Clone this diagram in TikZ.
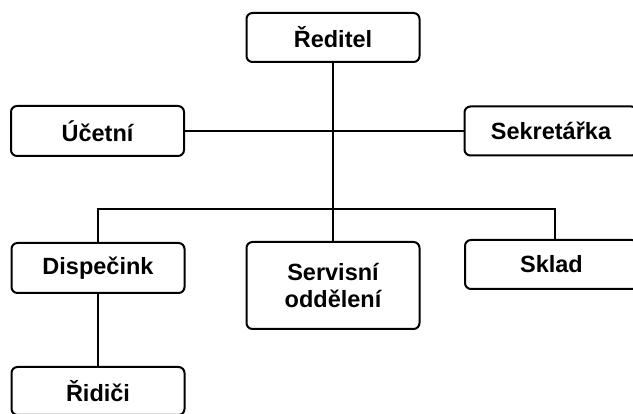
\documentclass[tikz,border=0pt]{standalone}
\usepackage{fontspec}
\setmainfont{Liberation Sans}
\begin{document}
\begin{tikzpicture}[x=1pt,y=-1pt,
  orgbox/.style={draw=black,line width=2pt,rounded corners=6pt,fill=white,
    minimum width=173pt,inner sep=0pt,align=center,
    font=\fontsize{23.5}{27}\selectfont\bfseries},
  link/.style={draw=black,line width=2pt}]
\useasboundingbox[fill=white] (0,0) rectangle (633,414);
\node[orgbox,minimum height=49pt] (red) at (333,37.5) {Ředitel};
\node[orgbox,minimum height=50pt] (uc) at (97.5,131) {Účetní};
\node[orgbox,minimum height=49pt] (sek) at (551,131) {Sekretářka};
\node[orgbox,minimum height=50pt] (disp) at (98,268) {Dispečink};
\node[orgbox,minimum height=87pt] (serv) at (333,285.5) {Servisní\\oddělení};
\node[orgbox,minimum height=49pt] (skl) at (551.5,264.5) {Sklad};
\node[orgbox,minimum height=48pt] (rid) at (98,391) {Řidiči};
\coordinate (bl) at (98,209);
\coordinate (bm) at (333,209);
\coordinate (br) at (555,209);
\draw[link] (red.south) -- (bm);
\draw[link] (uc.east) -- (sek.west);
\draw[link,line cap=rect] (bl) -- (br);
\draw[link] (bl) -- (disp.north);
\draw[link] (bm) -- (serv.north);
\draw[link] (br) -- (br |- skl.north);
\draw[link] (disp.south) -- (rid.north);
\end{tikzpicture}
\end{document}
